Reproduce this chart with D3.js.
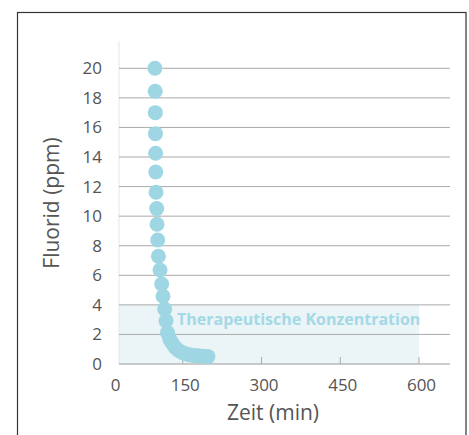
<!DOCTYPE html>
<html><head><meta charset="utf-8">
<script src="https://cdn.jsdelivr.net/npm/d3@7"></script>
<style>body{margin:0;background:#fff;}svg{display:block;font-family:"Open Sans",sans-serif;}</style>
</head><body><svg id="c" width="469" height="435"></svg>
<script>
const timeMin = [97,97.5,97.8,98,98.3,98.6,99.1,100.4,101,102.3,103.6,106.7,109.9,112.4,115.6,118.1,121,125,130,135,141,148,155,163,171,180,189,198];
const fluorid = [20,18.45,17.0,15.58,14.25,12.99,11.62,10.51,9.45,8.39,7.29,6.36,5.41,4.58,3.72,2.93,2.12,1.7,1.4,1.15,0.95,0.8,0.7,0.62,0.58,0.55,0.53,0.5];
const xTicks = [0,150,300,450,600];
const yTicks = [0,2,4,6,8,10,12,14,16,18,20];
const band = [0,4];
const bandLabel = "Therapeutische Konzentration";

const svg = d3.select("#c");
const x = d3.scaleLinear().domain([0,600]).range([104,419]);
const y = d3.scaleLinear().domain([0,20]).range([364,68.3]);
const plotL = 119, plotR = 450;

svg.append("rect").attr("x",17.5).attr("y",12.5).attr("width",448.5).attr("height",440)
  .attr("fill","none").attr("stroke","#333").attr("stroke-width",1.2);

svg.append("rect").attr("x",plotL).attr("y",y(band[1])).attr("width",x(600)-plotL)
  .attr("height",y(band[0])-y(band[1])).attr("fill","#ebf4f7");

svg.append("line").attr("x1",plotL).attr("x2",plotL).attr("y1",41).attr("y2",y(0))
  .attr("stroke","#e6e6e6").attr("stroke-width",1);

svg.append("g").selectAll("line").data(yTicks.filter(d=>d>0)).join("line")
  .attr("x1",plotL).attr("x2",plotR).attr("y1",d=>y(d)).attr("y2",d=>y(d))
  .attr("stroke","#aaa").attr("stroke-width",1);

svg.append("line").attr("x1",plotL).attr("x2",plotR).attr("y1",y(0)).attr("y2",y(0))
  .attr("stroke","#999").attr("stroke-width",1.2);
svg.append("g").selectAll("line").data(xTicks.filter(d=>d>0)).join("line")
  .attr("x1",d=>x(d)).attr("x2",d=>x(d)).attr("y1",y(0)-7).attr("y2",y(0))
  .attr("stroke","#aaa").attr("stroke-width",1);

const xa = svg.append("g").attr("transform",`translate(0,${y(0)})`)
  .call(d3.axisBottom(x).tickValues(xTicks).tickSize(0).tickPadding(15).tickFormat(d3.format("d")));
xa.select(".domain").remove();
xa.selectAll("text").attr("font-size",17).attr("fill","#555").attr("font-family","Open Sans")
  .attr("dx",d=>d===0?"11":"2");

const ya = svg.append("g").attr("transform",`translate(${plotL},0)`)
  .call(d3.axisLeft(y).tickValues(yTicks).tickSize(0).tickPadding(17));
ya.select(".domain").remove();
ya.selectAll("text").attr("font-size",17).attr("fill","#555").attr("font-family","Open Sans");

svg.append("g").selectAll("circle").data(timeMin).join("circle")
  .attr("cx",(d)=>x(d)).attr("cy",(d,i)=>y(fluorid[i])).attr("r",7.5)
  .attr("fill","#9fd6e3");

svg.append("text").attr("x",177).attr("y",y(3)).attr("dy","0.35em")
  .attr("font-size",16).attr("font-weight","bold").attr("fill","#a3d9e6")
  .text(bandLabel);

svg.append("text").attr("x",273).attr("y",413).attr("dy","0.35em").attr("text-anchor","middle")
  .attr("font-size",21).attr("fill","#555").text("Zeit (min)");
svg.append("text").attr("transform","translate(52,203) rotate(-90)").attr("dy","0.35em")
  .attr("text-anchor","middle").attr("font-size",21).attr("fill","#555").text("Fluorid (ppm)");
</script></body></html>
